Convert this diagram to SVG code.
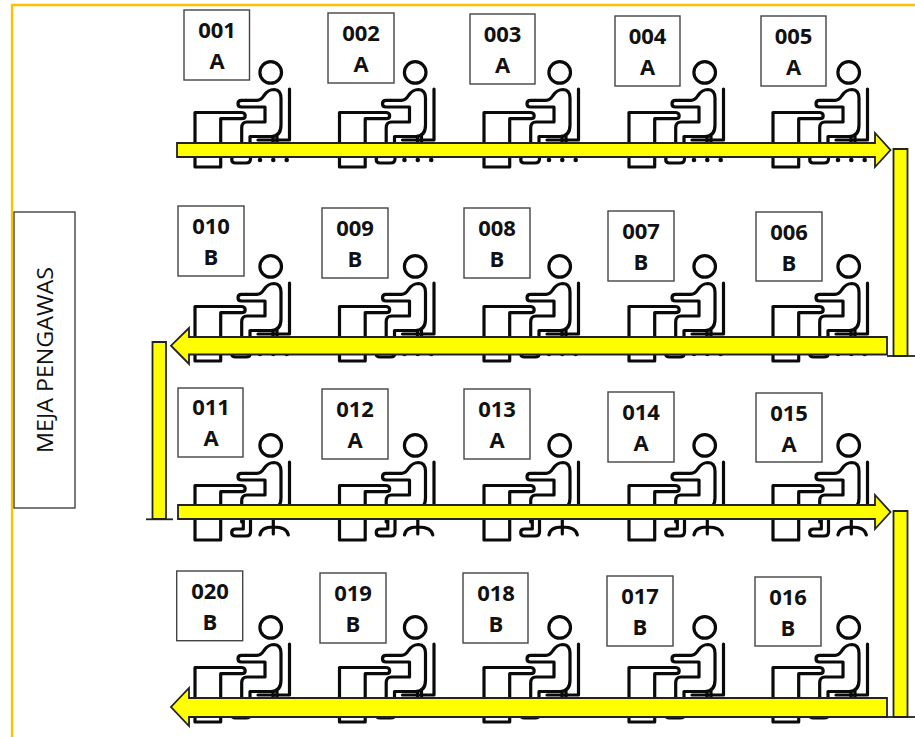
<svg xmlns="http://www.w3.org/2000/svg" width="915" height="737" viewBox="0 0 915 737" font-family="'Open Sans','Noto Sans',sans-serif">
<style>
.fig{fill:none;stroke:#0a0a0a;stroke-width:3.2;stroke-linejoin:round;stroke-linecap:round}
.dot{fill:#0a0a0a}
.box{fill:#fff;stroke:#444;stroke-width:1.4}
.lbl{font-size:22px;font-weight:700;fill:#111;text-anchor:middle}
.arr{fill:#ff0;stroke:#222;stroke-width:1.8}
.base{fill:none;stroke:#222;stroke-width:1.8}
</style>
<defs>
<g id="person">
<circle class="fig" cx="270.7" cy="72.4" r="10.8"/>
<path class="fig" d="M289.500 89V140H258"/>
<path class="fig" d="M246 100.300H241.500Q238 100.300 238 103.700Q238 107 241.500 107H265V122H247Q241.700 122 241.700 128V149"/>
<path class="fig" d="M246 100.300H257Q261 100.300 264 95.500Q268 89.500 274 89.500Q281 90 281 98V125Q281 136.500 271 136.500H250V142"/>
<path class="fig" d="M195 167V112.500H241.700Q245.200 113 245.200 115.700Q245.200 118.700 241.700 118.700H220.700V167Z"/>
<path class="fig" d="M273 136.500V143M277 136.500V143"/>
<path class="fig" d="M250.500 147V159Q250.500 163 246 163H235.500Q231.700 163 231.700 159.500Q231.700 156 235.500 156H243.300V147"/>
</g>
<g id="dots"><circle class="dot" cx="260" cy="160" r="2.300"/><circle class="dot" cx="273.300" cy="160" r="2.300"/><circle class="dot" cx="286.700" cy="160" r="2.300"/></g>
<g id="swivel"><path class="fig" d="M273.300 147V161M260 162Q261 154 273.300 154Q287 154 288.300 162"/></g>
<g id="p1"><use href="#person"/><use href="#dots"/></g>
<g id="p2"><use href="#person"/><use href="#swivel"/></g>
</defs>
<rect width="915" height="737" fill="#fff"/>
<path d="M915 5H12V737" fill="none" stroke="#ffc000" stroke-width="2.300"/>
<g id="meja-pengawas"><rect class="box" x="14" y="212" width="61" height="296"/><text transform="translate(53,360) rotate(-90)" font-size="22" textLength="186" lengthAdjust="spacingAndGlyphs" fill="#111" text-anchor="middle">MEJA PENGAWAS</text></g>

<g id="figures">
<use href="#p1"/><use href="#p1" x="144.500"/><use href="#p1" x="289"/><use href="#p1" x="434"/><use href="#p1" x="578"/>
<use href="#p1" y="194"/><use href="#p1" x="144.500" y="194"/><use href="#p1" x="289" y="194"/><use href="#p1" x="434" y="194"/><use href="#p1" x="578" y="194"/>
<use href="#p2" y="373"/><use href="#p2" x="144.500" y="373"/><use href="#p2" x="289" y="373"/><use href="#p2" x="434" y="373"/><use href="#p2" x="578" y="373"/>
<use href="#p1" y="555"/><use href="#p1" x="144.500" y="555"/><use href="#p1" x="289" y="555"/><use href="#p1" x="434" y="555"/><use href="#p1" x="578" y="555"/>
</g>

<g id="seat-001"><rect class="box" x="184" y="10" width="65.500" height="70"/><text class="lbl" x="217" y="38">001</text><text class="lbl" x="217" y="69">A</text></g>
<g id="seat-002"><rect class="box" x="328" y="13" width="66" height="70"/><text class="lbl" x="361" y="41">002</text><text class="lbl" x="361" y="72">A</text></g>
<g id="seat-003"><rect class="box" x="470" y="14" width="65" height="70"/><text class="lbl" x="502.500" y="42">003</text><text class="lbl" x="502.500" y="73">A</text></g>
<g id="seat-004"><rect class="box" x="615" y="16" width="65" height="70"/><text class="lbl" x="647.500" y="44">004</text><text class="lbl" x="647.500" y="75">A</text></g>
<g id="seat-005"><rect class="box" x="761" y="16" width="65" height="70"/><text class="lbl" x="793.500" y="44">005</text><text class="lbl" x="793.500" y="75">A</text></g>

<g id="seat-010"><rect class="box" x="178" y="206" width="66" height="70"/><text class="lbl" x="211" y="234">010</text><text class="lbl" x="211" y="265">B</text></g>
<g id="seat-009"><rect class="box" x="322" y="208" width="66" height="70"/><text class="lbl" x="355" y="236">009</text><text class="lbl" x="355" y="267">B</text></g>
<g id="seat-008"><rect class="box" x="464" y="208" width="66" height="70"/><text class="lbl" x="497" y="236">008</text><text class="lbl" x="497" y="267">B</text></g>
<g id="seat-007"><rect class="box" x="608" y="211" width="66" height="70"/><text class="lbl" x="641" y="239">007</text><text class="lbl" x="641" y="270">B</text></g>
<g id="seat-006"><rect class="box" x="756" y="212" width="66" height="69"/><text class="lbl" x="789" y="240">006</text><text class="lbl" x="789" y="271">B</text></g>

<g id="seat-011"><rect class="box" x="178" y="388" width="65" height="69"/><text class="lbl" x="211" y="415">011</text><text class="lbl" x="211" y="446">A</text></g>
<g id="seat-012"><rect class="box" x="322" y="389" width="66" height="70"/><text class="lbl" x="355" y="417">012</text><text class="lbl" x="355" y="448">A</text></g>
<g id="seat-013"><rect class="box" x="464" y="389" width="66" height="70"/><text class="lbl" x="497" y="417">013</text><text class="lbl" x="497" y="448">A</text></g>
<g id="seat-014"><rect class="box" x="608" y="392" width="66" height="70"/><text class="lbl" x="641" y="420">014</text><text class="lbl" x="641" y="451">A</text></g>
<g id="seat-015"><rect class="box" x="756" y="393" width="66" height="69"/><text class="lbl" x="789" y="421">015</text><text class="lbl" x="789" y="452">A</text></g>

<g id="seat-020"><rect class="box" x="176.700" y="571" width="66" height="69.700"/><text class="lbl" x="210" y="599">020</text><text class="lbl" x="210" y="630">B</text></g>
<g id="seat-019"><rect class="box" x="320" y="573" width="66" height="70"/><text class="lbl" x="353" y="601">019</text><text class="lbl" x="353" y="632">B</text></g>
<g id="seat-018"><rect class="box" x="463" y="573" width="65" height="70"/><text class="lbl" x="496" y="601">018</text><text class="lbl" x="496" y="632">B</text></g>
<g id="seat-017"><rect class="box" x="607" y="576" width="66" height="70"/><text class="lbl" x="640" y="604">017</text><text class="lbl" x="640" y="635">B</text></g>
<g id="seat-016"><rect class="box" x="755" y="577" width="66" height="69"/><text class="lbl" x="788" y="605">016</text><text class="lbl" x="788" y="636">B</text></g>

<g id="connectors">
<path class="arr" d="M177 143H875V133L890.500 150L875 167V157H177Z"/>
<path class="arr" d="M893.500 149H907.500V356H893.500Z"/>
<path class="base" d="M887 356H915"/>
<path class="arr" d="M887 337H189V328L171 345.700L189 364V354.500H887Z"/>
<path class="arr" d="M152.500 342H166V519H152.500Z"/>
<path class="base" d="M146 519.300H173"/>
<path class="arr" d="M178 505H875V495L890.500 512L875 529V519H178Z"/>
<path class="arr" d="M893.500 511H907.500V717H893.500Z"/>
<path class="base" d="M887 717H915"/>
<path class="arr" d="M887 698H189V688L171 707L189 726V717H887Z"/>
</g>
</svg>
